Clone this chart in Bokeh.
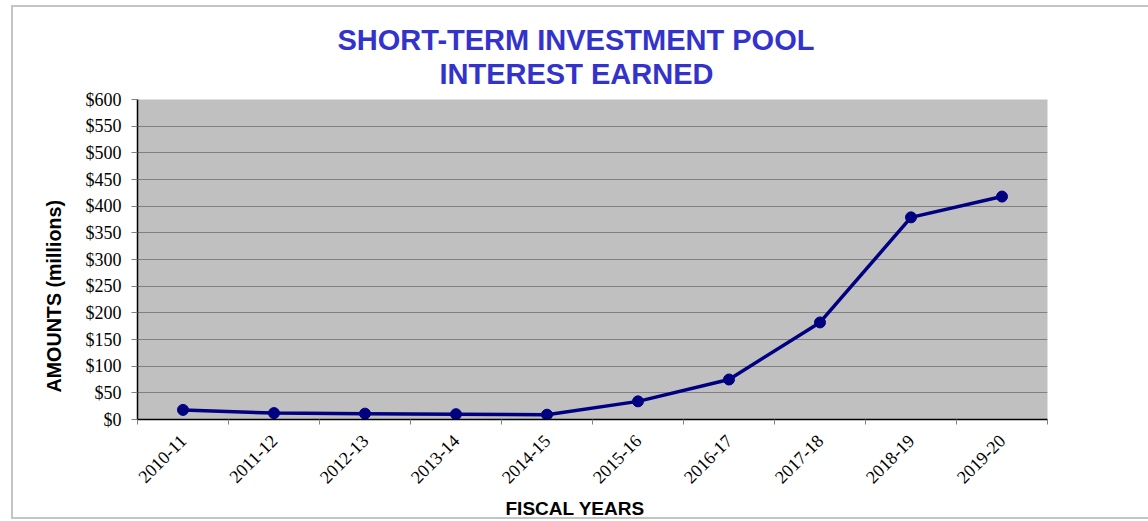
from math import pi
from bokeh.plotting import figure
from bokeh.models import Title, FixedTicker, NumeralTickFormatter, Range1d, ColumnDataSource
from bokeh.embed import file_html
from bokeh.resources import INLINE

# ---- data ----
years = ["2010-11", "2011-12", "2012-13", "2013-14", "2014-15",
         "2015-16", "2016-17", "2017-18", "2018-19", "2019-20"]
interest = [18, 12, 11, 10, 9, 34, 75, 182, 379, 418]  # $ millions
y_ticks = [0, 50, 100, 150, 200, 250, 300, 350, 400, 450, 500, 550, 600]
title_lines = ["SHORT-TERM INVESTMENT POOL", "INTEREST EARNED"]
x_title = "FISCAL YEARS"
y_title = "AMOUNTS (millions)"

xpos = list(range(len(years)))
src = ColumnDataSource(dict(x=xpos, y=interest, year=years))

p = figure(width=1148, height=521, output_backend="svg", toolbar_location=None,
           x_range=Range1d(-0.5, len(years) - 0.5), y_range=Range1d(y_ticks[0], y_ticks[-1]),
           min_border_left=137, min_border_right=101, min_border_top=99, min_border_bottom=102)
p.background_fill_color = "#C0C0C0"
p.border_fill_color = "white"
p.border_fill_alpha = 0
p.outline_line_color = None
p.styles = {
    "background-image": ("linear-gradient(#C4C4C4,#C4C4C4), linear-gradient(#C4C4C4,#C4C4C4), "
                         "linear-gradient(#C4C4C4,#C4C4C4)"),
    "background-size": "2px 512px, 1140px 2px, 1140px 2px",
    "background-position": "11px 6px, 11px 5px, 11px 517px",
    "background-repeat": "no-repeat",
}

p.line('x', 'y', source=src, line_color="#000080", line_width=3.5)
p.scatter('x', 'y', source=src, size=11, fill_color="#000080", line_color="#000080")

# y axis
p.yaxis.ticker = FixedTicker(ticks=y_ticks)
p.yaxis.formatter = NumeralTickFormatter(format="$0,0")
p.yaxis.major_label_text_font = "Liberation Serif"
p.yaxis.major_label_text_font_size = "18px"
p.yaxis.major_label_text_color = "black"
p.yaxis.major_tick_out = 6
p.yaxis.major_tick_in = 0
p.yaxis.major_tick_line_color = "#808080"
p.yaxis.minor_tick_line_color = None
p.yaxis.axis_line_color = "black"
p.yaxis.axis_line_width = 1.5
p.yaxis.major_label_standoff = 10

# x axis
p.xaxis.ticker = FixedTicker(ticks=xpos, minor_ticks=[i - 0.5 for i in range(len(years) + 1)])
p.xaxis.major_label_overrides = {i: yr for i, yr in enumerate(years)}
p.xaxis.major_label_orientation = pi / 4
p.xaxis.major_label_text_font = "Liberation Serif"
p.xaxis.major_label_text_font_size = "18px"
p.xaxis.major_label_text_color = "black"
p.xaxis.major_tick_out = 0
p.xaxis.major_tick_in = 0
p.xaxis.minor_tick_out = 5
p.xaxis.minor_tick_in = 0
p.xaxis.minor_tick_line_color = "#808080"
p.xaxis.axis_line_color = "black"
p.xaxis.axis_line_width = 1.5
p.xaxis.major_label_standoff = 13

p.xgrid.visible = False
p.ygrid.ticker = FixedTicker(ticks=y_ticks[1:-1])
p.ygrid.grid_line_color = "#808080"
p.ygrid.grid_line_width = 1

# titles
title_style = dict(text_font="Liberation Sans", text_font_style="bold",
                   text_font_size="29px", text_color="#3333CC", align="left")
p.add_layout(Title(text=title_lines[1], offset=302, standoff=20, **title_style), "above")
p.add_layout(Title(text=title_lines[0], offset=200, standoff=-20, **title_style), "above")

axis_title_style = dict(text_font="Liberation Sans", text_font_style="bold",
                        text_color="black", align="left")
p.add_layout(Title(text=x_title, offset=368, standoff=6, vertical_align="bottom",
                   text_font_size="19px", **axis_title_style), "below")
p.add_layout(Title(text=y_title, offset=27, standoff=36, text_font_size="19.7px",
                   **axis_title_style), "left")

open("out.html", "w").write(file_html(p, INLINE))
